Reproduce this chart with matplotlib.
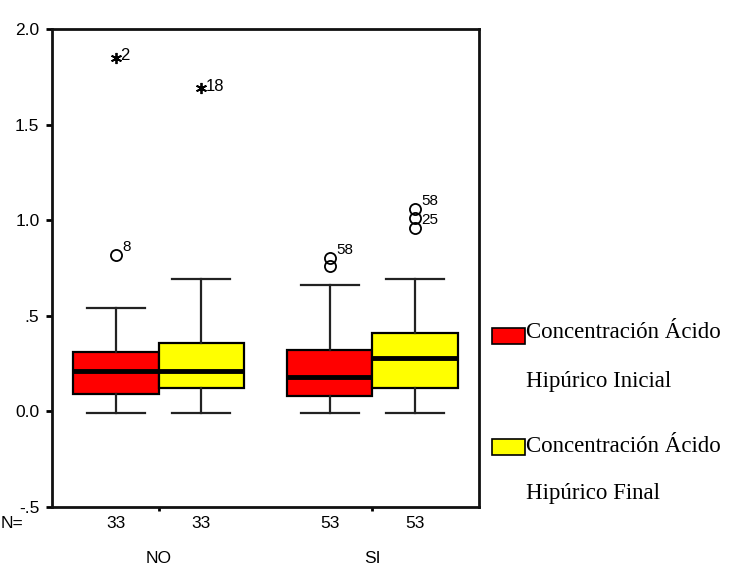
import matplotlib
matplotlib.use("Agg")
import matplotlib.pyplot as plt
from matplotlib.patches import Rectangle

# Groups and series
groups = ["NO", "SI"]
series_labels = ["Concentración Ácido\nHipúrico Inicial", "Concentración Ácido\nHipúrico Final"]
series_colors = ["#ff0000", "#ffff00"]
n_inicial = [33, 53]
n_final = [33, 53]

# Box summaries (per group) for the initial concentration
inicial_whislo = [-0.01, -0.01]
inicial_q1 = [0.09, 0.08]
inicial_med = [0.21, 0.18]
inicial_q3 = [0.31, 0.32]
inicial_whishi = [0.54, 0.66]

# Box summaries (per group) for the final concentration
final_whislo = [-0.01, -0.01]
final_q1 = [0.12, 0.12]
final_med = [0.21, 0.28]
final_q3 = [0.36, 0.41]
final_whishi = [0.69, 0.69]

# Outliers: (box index, value, case label)
circle_group = [0, 2, 2, 3, 3, 3]
circle_values = [0.82, 0.76, 0.80, 0.96, 1.01, 1.06]
circle_labels = ["8", "", "58", "25", "", "58"]
extreme_group = [0, 1]
extreme_values = [1.85, 1.69]
extreme_labels = ["2", "18"]

yticks = [-0.5, 0.0, 0.5, 1.0, 1.5, 2.0]
ytick_labels = ["-.5", "0.0", ".5", "1.0", "1.5", "2.0"]

W, H = 736, 567
fig = plt.figure(figsize=(W / 100, H / 100), dpi=100)
ax = fig.add_axes([52 / W, 60 / H, 427 / W, 478 / H])

offset = 0.2
box_w = 0.4
positions = []
stats = []
colors = []
for g in range(len(groups)):
    for s, (lo, q1, med, q3, hi) in enumerate([
        (inicial_whislo, inicial_q1, inicial_med, inicial_q3, inicial_whishi),
        (final_whislo, final_q1, final_med, final_q3, final_whishi),
    ]):
        positions.append(g - offset + s * 2 * offset)
        stats.append(dict(whislo=lo[g], q1=q1[g], med=med[g], q3=q3[g],
                          whishi=hi[g], fliers=[]))
        colors.append(series_colors[s])

bp = ax.bxp(stats, positions=positions, widths=box_w, patch_artist=True,
            showfliers=False, capwidths=box_w * 0.68,
            boxprops=dict(edgecolor="black", linewidth=1.6),
            medianprops=dict(color="black", linewidth=3.5),
            whiskerprops=dict(color="#222222", linewidth=1.6),
            capprops=dict(color="#222222", linewidth=1.6))
for patch, c in zip(bp["boxes"], colors):
    patch.set_facecolor(c)

# Outliers (circles) and extremes (asterisks) with case numbers
for b, v, lab in zip(circle_group, circle_values, circle_labels):
    x = positions[b]
    ax.plot(x, v, marker="o", ms=8, mfc="none", mec="black", mew=1.3)
    if lab:
        ax.text(x + 0.03, v + 0.005, lab, fontsize=11, va="bottom", ha="left",
                family="Liberation Sans")
for b, v, lab in zip(extreme_group, extreme_values, extreme_labels):
    x = positions[b]
    ax.plot(x, v, marker=(6, 2, 0), ms=8, color="black", mew=1.3)
    ax.text(x + 0.02, v + 0.01, lab, fontsize=12, va="center", ha="left",
            family="Liberation Sans")

ax.set_xlim(-0.5, 1.5)
ax.set_ylim(-0.5, 2.0)
ax.set_yticks(yticks)
ax.set_yticklabels(ytick_labels, family="Liberation Sans", fontsize=12.5)
ax.set_xticks(range(len(groups)))
ax.set_xticklabels([])
ax.tick_params(axis="y", length=4, width=2, pad=5)
ax.tick_params(axis="x", length=3, width=2)
for sp in ax.spines.values():
    sp.set_linewidth(2)
    sp.set_color("#111111")

# Counts under each box and group names
tr = ax.get_xaxis_transform()
counts = []
for g in range(len(groups)):
    counts += [n_inicial[g], n_final[g]]
for x, n in zip(positions, counts):
    ax.text(x, -0.035, str(n), transform=tr, ha="center", va="center",
            fontsize=12.5, family="Liberation Sans")
for g, name in enumerate(groups):
    ax.text(g, -0.108, name, transform=tr, ha="center", va="center",
            fontsize=12.5, family="Liberation Sans")
fig.text(1 / W, 1 - 523 / H, "N=", ha="left", va="center", fontsize=12.5,
         family="Liberation Sans")

# Legend
leg_rows = [(328, 333, 382), (439, 446, 493)]
for (py, ty1, ty2), lab, c in zip(leg_rows, series_labels, series_colors):
    fig.patches.append(Rectangle((492 / W, 1 - (py + 16) / H), 33 / W, 16 / H,
                                 transform=fig.transFigure, facecolor=c,
                                 edgecolor="black", linewidth=1.2))
    l1, l2 = lab.split("\n")
    fig.text(526 / W, 1 - ty1 / H, l1, ha="left", va="center", fontsize=16.5,
             family="Liberation Serif")
    fig.text(526 / W, 1 - ty2 / H, l2, ha="left", va="center", fontsize=16.5,
             family="Liberation Serif")

fig.savefig("out.png", dpi=100)
